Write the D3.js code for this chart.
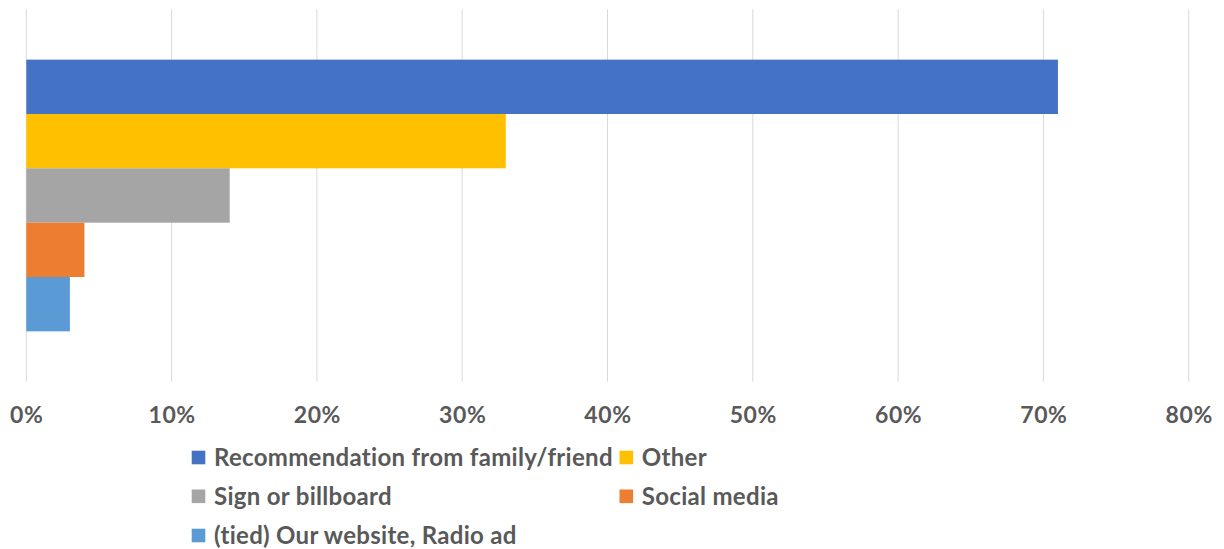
<!DOCTYPE html>
<html>
<head>
<meta charset="utf-8">
<script src="https://cdn.jsdelivr.net/npm/d3@7"></script>
<style>
  html, body { margin: 0; padding: 0; background: #ffffff; }
  svg { display: block; font-family: Lato, "Open Sans", sans-serif; }
</style>
</head>
<body>
<svg id="chart" width="1224" height="549"></svg>
<script>
// How customers heard about us (share of respondents)
const seriesNames = [
  "Recommendation from family/friend",
  "Other",
  "Sign or billboard",
  "Social media",
  "(tied) Our website, Radio ad"
];
const seriesValues = [0.71, 0.33, 0.14, 0.04, 0.03];
const seriesColors = ["#4472C4", "#FFC000", "#A5A5A5", "#ED7D31", "#5B9BD5"];
const tickValues = [0, 0.1, 0.2, 0.3, 0.4, 0.5, 0.6, 0.7, 0.8];

const svg = d3.select("#chart");
const plot = { left: 26.3, right: 1188.7, top: 9.3, bottom: 381.7 };

const x = d3.scaleLinear().domain([0, 0.8]).range([plot.left, plot.right]);

// single category band, series grouped inside it
const yCat = d3.scaleBand().domain(["all"]).range([plot.top, plot.bottom])
  .paddingInner(0).paddingOuter(0.1853);
const ySeries = d3.scaleBand().domain(seriesNames).range([0, yCat.bandwidth()]);

// vertical gridlines
svg.append("g")
  .selectAll("line")
  .data(tickValues)
  .join("line")
  .attr("x1", d => x(d)).attr("x2", d => x(d))
  .attr("y1", plot.top).attr("y2", plot.bottom)
  .attr("stroke", "#D9D9D9").attr("stroke-width", 1);

// bars
const data = seriesNames.map((name, i) => ({ name, value: seriesValues[i], color: seriesColors[i] }));
svg.append("g")
  .attr("transform", `translate(0,${yCat("all")})`)
  .selectAll("rect")
  .data(data)
  .join("rect")
  .attr("x", x(0))
  .attr("y", d => ySeries(d.name))
  .attr("width", d => x(d.value) - x(0))
  .attr("height", ySeries.bandwidth())
  .attr("fill", d => d.color);

// x axis labels
const axis = d3.axisBottom(x).tickValues(tickValues).tickFormat(d3.format(".0%")).tickSize(0).tickPadding(0);
const axisG = svg.append("g").attr("transform", `translate(0,${plot.bottom})`).call(axis);
axisG.select(".domain").remove();
axisG.selectAll("text")
  .attr("y", 0)
  .attr("dy", 0)
  .attr("transform", "translate(0,40.8)")
  .attr("font-family", "Lato, sans-serif")
  .attr("font-weight", "bold")
  .attr("font-size", 23)
  .attr("letter-spacing", "0.6px")
  .attr("fill", "#595959");

// legend: two columns, three rows
const legendCols = [191.7, 619.5];
const legendRows = [457.5, 496.3, 535.5];
const legend = svg.append("g");
data.forEach((d, i) => {
  const col = i % 2, row = Math.floor(i / 2);
  const g = legend.append("g").attr("transform", `translate(${legendCols[col]},${legendRows[row]})`);
  g.append("rect").attr("x", 0).attr("y", -6.8).attr("width", 13.6).attr("height", 13.6).attr("fill", d.color);
  g.append("text")
    .attr("x", 22.3).attr("y", 0).attr("dy", "0.35em")
    .attr("font-weight", "bold").attr("font-size", 24)
    .attr("letter-spacing", "0.3px")
    .attr("fill", "#595959")
    .text(d.name);
});
</script>
</body>
</html>
